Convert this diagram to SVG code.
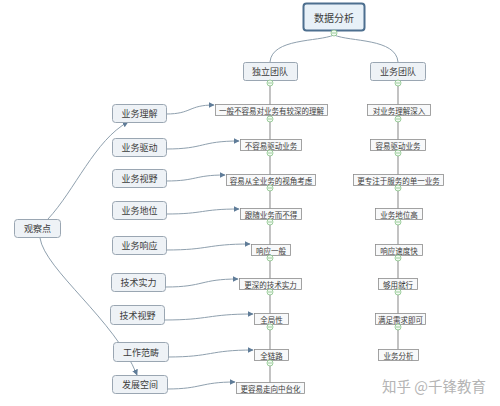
<svg xmlns="http://www.w3.org/2000/svg" width="500" height="406" viewBox="0 0 500 406">
<defs>
<style>
text{font-family:"Noto Sans CJK SC","Noto Sans",sans-serif;fill:#3c3c3c;text-anchor:middle;dominant-baseline:central}
.lb rect{fill:#eef2f6;stroke:#9aa6b2;stroke-width:1}
.lb text{font-size:9px}
.mb rect{fill:#f8f9fa;stroke:#8c8c8c;stroke-width:0.8}
.mb text{font-size:7.5px}
.conn path{fill:none;stroke:#8fa0ae;stroke-width:1}
.vl{stroke:#9a9a9a;stroke-width:1.2}
.tog circle{fill:#f3faf3;stroke:#86c186;stroke-width:0.8}
.tog path{stroke:#86c186;stroke-width:0.8}
</style>
<marker id="ah" viewBox="0 0 10 10" refX="9" refY="5" markerWidth="6" markerHeight="6" orient="auto" markerUnits="userSpaceOnUse">
<path d="M0,0 L10,5 L0,10 z" fill="#5f7c98"/>
</marker>
</defs>
<rect width="500" height="406" fill="#ffffff"/>

<g id="connectors" class="conn">
<path d="M334,35 C318,42 272,38 270,62"/>
<path d="M334,35 C350,42 396,38 398,62"/>
<line class="vl" x1="270" y1="80" x2="270" y2="383"/>
<line class="vl" x1="398" y1="80" x2="398" y2="349"/>
<path d="M48,219 C75,190 95,140 128,122" marker-end="url(#ah)"/>
<path d="M40,238 C45,270 115,320 137,375" marker-end="url(#ah)"/>
<path d="M166,114 C192,114 188,105 214,105" marker-end="url(#ah)"/>
<path d="M166,149 C205,149 200,141 239,141" marker-end="url(#ah)"/>
<path d="M166,181 C197,181 194,175 225,175" marker-end="url(#ah)"/>
<path d="M166,214 C205,214 200,209 239,209" marker-end="url(#ah)"/>
<path d="M166,250 C210,250 206,244 250,244" marker-end="url(#ah)"/>
<path d="M166,287 C204,287 200,279 238,279" marker-end="url(#ah)"/>
<path d="M164,320 C210,320 207,314 253,314" marker-end="url(#ah)"/>
<path d="M168,357 C212,357 209,350 253,350" marker-end="url(#ah)"/>
<path d="M167,389 C202,389 200,382 235,382" marker-end="url(#ah)"/>
</g>

<g id="root">
<rect x="303.5" y="3.5" width="61" height="27" rx="3" fill="#e8f1f8" stroke="#4d6f8f" stroke-width="2"/>
<text x="334" y="17" font-size="10">数据分析</text>
</g>
<g id="team1" class="lb"><rect x="243.5" y="62.5" width="54" height="18" rx="2"/><text x="270" y="71.5" font-size="8.5">独立团队</text></g>
<g id="team2" class="lb"><rect x="370.5" y="62.5" width="55" height="18" rx="2"/><text x="398" y="71.5" font-size="8.5">业务团队</text></g>

<g id="obs" class="lb"><rect x="14.5" y="219.5" width="46" height="18" rx="3"/><text x="37.5" y="228.5" font-size="8.5">观察点</text></g>

<g id="l1" class="lb"><rect x="112.5" y="104.5" width="54" height="18" rx="3"/><text x="139.5" y="113.5">业务理解</text></g>
<g id="l2" class="lb"><rect x="112.5" y="138.5" width="54" height="18" rx="3"/><text x="139.5" y="147.5">业务驱动</text></g>
<g id="l3" class="lb"><rect x="112.5" y="169.5" width="54" height="18" rx="3"/><text x="139.5" y="178.5">业务视野</text></g>
<g id="l4" class="lb"><rect x="112.5" y="201.5" width="54" height="18" rx="3"/><text x="139.5" y="210.5">业务地位</text></g>
<g id="l5" class="lb"><rect x="112.5" y="236.5" width="54" height="18" rx="3"/><text x="139.5" y="245.5">业务响应</text></g>
<g id="l6" class="lb"><rect x="111.5" y="273.5" width="54" height="18" rx="3"/><text x="138.5" y="282.5">技术实力</text></g>
<g id="l7" class="lb"><rect x="110.5" y="305.5" width="54" height="19" rx="3"/><text x="137.5" y="315">技术视野</text></g>
<g id="l8" class="lb"><rect x="113.5" y="342.5" width="55" height="19" rx="3"/><text x="141" y="352">工作范畴</text></g>
<g id="l9" class="lb"><rect x="112.5" y="375.5" width="55" height="18" rx="3"/><text x="140" y="384.5">发展空间</text></g>

<g id="m1" class="mb"><rect x="215.5" y="104.5" width="112" height="11"/><text x="271.5" y="110">一般不容易对业务有较深的理解</text></g>
<g id="m2" class="mb"><rect x="240.5" y="139.5" width="61" height="11"/><text x="271" y="145">不容易驱动业务</text></g>
<g id="m3" class="mb"><rect x="226.5" y="174.5" width="89" height="11"/><text x="271" y="180">容易从全业务的视角考虑</text></g>
<g id="m4" class="mb"><rect x="240.5" y="208.5" width="61" height="11"/><text x="271" y="214">跟随业务而不得</text></g>
<g id="m5" class="mb"><rect x="251.5" y="244.5" width="39" height="11"/><text x="271" y="250">响应一般</text></g>
<g id="m6" class="mb"><rect x="239.5" y="278.5" width="62" height="11"/><text x="270.5" y="284">更深的技术实力</text></g>
<g id="m7" class="mb"><rect x="254.5" y="313.5" width="34" height="11"/><text x="271.5" y="319">全局性</text></g>
<g id="m8" class="mb"><rect x="254.5" y="349.5" width="34" height="11"/><text x="271.5" y="355">全链路</text></g>
<g id="m9" class="mb"><rect x="236.5" y="382.5" width="68" height="11"/><text x="270.5" y="388">更容易走向中台化</text></g>

<g id="r1" class="mb"><rect x="367.5" y="104.5" width="63" height="11"/><text x="399" y="110">对业务理解深入</text></g>
<g id="r2" class="mb"><rect x="370.5" y="139.5" width="55" height="11"/><text x="398" y="145">容易驱动业务</text></g>
<g id="r3" class="mb"><rect x="353.5" y="174.5" width="90" height="11"/><text x="398.5" y="180">更专注于服务的单一业务</text></g>
<g id="r4" class="mb"><rect x="375.5" y="208.5" width="47" height="11"/><text x="399" y="214">业务地位高</text></g>
<g id="r5" class="mb"><rect x="375.5" y="244.5" width="47" height="11"/><text x="399" y="250">响应速度快</text></g>
<g id="r6" class="mb"><rect x="378.5" y="278.5" width="39" height="11"/><text x="398" y="284">够用就行</text></g>
<g id="r7" class="mb"><rect x="375.5" y="313.5" width="50" height="11"/><text x="400.5" y="319">满足需求即可</text></g>
<g id="r8" class="mb"><rect x="378.5" y="349.5" width="40" height="11"/><text x="398.5" y="355">业务分析</text></g>

<g id="toggles" class="tog">
<circle cx="334" cy="33" r="3"/><path d="M332,33 h4"/>
<circle cx="270" cy="83" r="3"/><path d="M268,83 h4"/>
<circle cx="398" cy="83" r="3"/><path d="M396,83 h4"/>
<circle cx="270" cy="119" r="3"/><path d="M268,119 h4"/>
<circle cx="270" cy="153" r="3"/><path d="M268,153 h4"/>
<circle cx="270" cy="188" r="3"/><path d="M268,188 h4"/>
<circle cx="270" cy="222" r="3"/><path d="M268,222 h4"/>
<circle cx="270" cy="258" r="3"/><path d="M268,258 h4"/>
<circle cx="270" cy="292" r="3"/><path d="M268,292 h4"/>
<circle cx="270" cy="327" r="3"/><path d="M268,327 h4"/>
<circle cx="270" cy="363" r="3"/><path d="M268,363 h4"/>
<circle cx="398" cy="119" r="3"/><path d="M396,119 h4"/>
<circle cx="398" cy="153" r="3"/><path d="M396,153 h4"/>
<circle cx="398" cy="188" r="3"/><path d="M396,188 h4"/>
<circle cx="398" cy="222" r="3"/><path d="M396,222 h4"/>
<circle cx="398" cy="258" r="3"/><path d="M396,258 h4"/>
<circle cx="398" cy="292" r="3"/><path d="M396,292 h4"/>
<circle cx="398" cy="327" r="3"/><path d="M396,327 h4"/>
</g>

<text x="434" y="385" font-size="14.5" style="fill:#b4b4b4">知乎 @千锋教育</text>
</svg>
